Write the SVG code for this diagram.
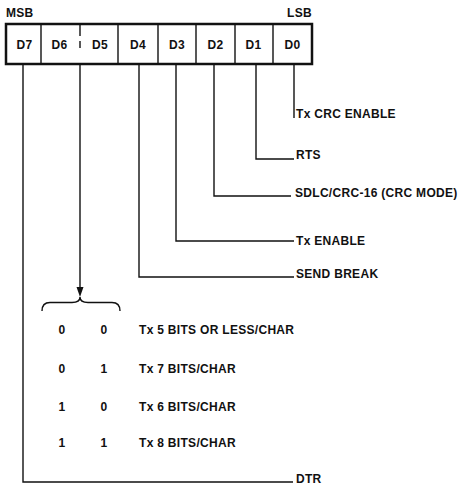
<svg xmlns="http://www.w3.org/2000/svg" width="460" height="486" viewBox="0 0 460 486">
<style>
text{font-family:"Liberation Sans",Arial,sans-serif;font-weight:bold;font-size:12px;letter-spacing:0.3px;fill:#111}
.c{text-anchor:middle}
.ln{fill:none;stroke:#111;stroke-width:1.4}
.box{fill:#fff;stroke:#111;stroke-width:2.5}
.div{stroke:#111;stroke-width:1.4}
</style>
<rect width="460" height="486" fill="#fff"/>
<g id="register">
<rect class="box" x="6" y="24" width="306" height="40"/>
<line class="div" x1="41" y1="24" x2="41" y2="64"/>
<line class="div" x1="80" y1="24" x2="80" y2="36"/>
<line class="div" x1="80" y1="41" x2="80" y2="48"/>
<line class="div" x1="118" y1="24" x2="118" y2="64"/>
<line class="div" x1="158" y1="24" x2="158" y2="64"/>
<line class="div" x1="196" y1="24" x2="196" y2="64"/>
<line class="div" x1="235" y1="24" x2="235" y2="64"/>
<line class="div" x1="273" y1="24" x2="273" y2="64"/>
<text x="6" y="17">MSB</text>
<text x="312" y="17" text-anchor="end">LSB</text>
</g>
<g id="D7"><text class="c" x="24.5" y="48.5">D7</text></g>
<g id="D6"><text class="c" x="59.5" y="48.5">D6</text></g>
<g id="D5"><text class="c" x="100" y="48.5">D5</text></g>
<g id="D4"><text class="c" x="138" y="48.5">D4</text></g>
<g id="D3"><text class="c" x="177" y="48.5">D3</text></g>
<g id="D2"><text class="c" x="215.5" y="48.5">D2</text></g>
<g id="D1"><text class="c" x="253.5" y="48.5">D1</text></g>
<g id="D0"><text class="c" x="292.5" y="48.5">D0</text></g>
<g id="connectors">
<polyline class="ln" points="294,64 294,118"/>
<polyline class="ln" points="256,64 256,159 294,159"/>
<polyline class="ln" points="214,64 214,196 291,196"/>
<polyline class="ln" points="176,64 176,241 294,241"/>
<polyline class="ln" points="139,64 139,277 294,277"/>
<polyline class="ln" points="23,64 23,482 293,482"/>
<line class="ln" x1="80" y1="64" x2="80" y2="288"/>
<path d="M76.5,287 L83.5,287 L80,297 Z" fill="#111"/>
<path class="ln" d="M42,311 Q42,302.5 50,302.5 L72,302.5 Q80,302.5 80,297 Q80,302.5 88,302.5 L112,302.5 Q120,302.5 120,311"/>
</g>
<g id="lbl-d0"><text x="296" y="118">Tx CRC ENABLE</text></g>
<g id="lbl-d1"><text x="296" y="159">RTS</text></g>
<g id="lbl-d2"><text x="295" y="197">SDLC/CRC-16 (CRC MODE)</text></g>
<g id="lbl-d3"><text x="296" y="245">Tx ENABLE</text></g>
<g id="lbl-d4"><text x="296" y="278">SEND BREAK</text></g>
<g id="lbl-d7"><text x="296" y="483">DTR</text></g>
<g id="table">
<text class="c" x="62" y="334">0</text><text class="c" x="104" y="334">0</text><text x="139" y="334">Tx 5 BITS OR LESS/CHAR</text>
<text class="c" x="62" y="373">0</text><text class="c" x="104" y="373">1</text><text x="139" y="373">Tx 7 BITS/CHAR</text>
<text class="c" x="62" y="411">1</text><text class="c" x="104" y="411">0</text><text x="139" y="411">Tx 6 BITS/CHAR</text>
<text class="c" x="62" y="447">1</text><text class="c" x="104" y="447">1</text><text x="139" y="447">Tx 8 BITS/CHAR</text>
</g>
</svg>
